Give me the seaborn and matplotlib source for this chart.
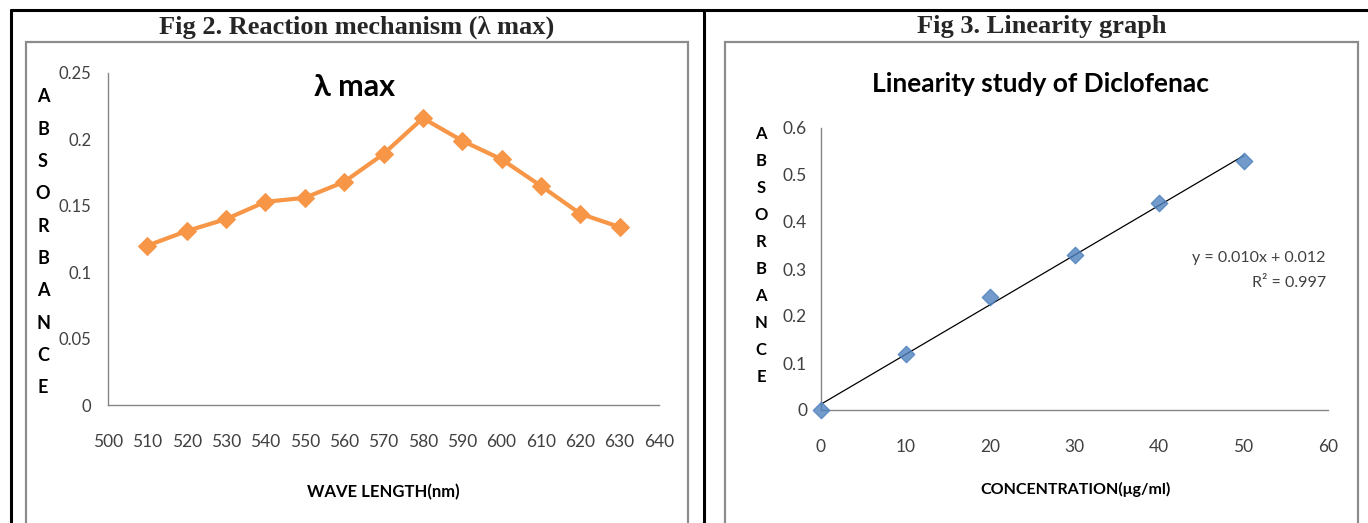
import numpy as np
import pandas as pd
import matplotlib
matplotlib.use("Agg")
import matplotlib.pyplot as plt
import seaborn as sns
from matplotlib.ticker import FuncFormatter, MultipleLocator
from matplotlib.patches import Rectangle
from matplotlib.lines import Line2D

# data
wavelength = [510, 520, 530, 540, 550, 560, 570, 580, 590, 600, 610, 620, 630]
absorbance_wl = [0.120, 0.131, 0.140, 0.153, 0.156, 0.168, 0.189, 0.216, 0.199, 0.185, 0.165, 0.144, 0.134]

concentration = [0, 10, 20, 30, 40, 50]
absorbance_conc = [0.0, 0.12, 0.24, 0.33, 0.44, 0.53]

header_left = "Fig 2. Reaction mechanism (\u03bb max)"
header_right = "Fig 3. Linearity graph"
title_left = "\u03bb max"
title_right = "Linearity study of Diclofenac"
xlabel_left = "WAVE LENGTH(nm)"
xlabel_right = "CONCENTRATION(\u03bcg/ml)"
ylabel_letters = list("ABSORBANCE")
equation = "y = 0.010x + 0.012"
r_squared = "R\u00b2 = 0.997"

W, H = 1368, 523

sns.set_theme(style="white")
plt.rcParams['font.family'] = ['Lato', 'DejaVu Sans']

AXIS_GRAY = "#868686"
TEXT_DARK = "#404040"


def fx(px):
    return px / W


def fy(py):
    return 1 - py / H


def style_axes(ax):
    sns.despine(ax=ax)
    for side in ["left", "bottom"]:
        ax.spines[side].set_color(AXIS_GRAY)
        ax.spines[side].set_linewidth(1.0)
    ax.tick_params(axis="both", which="both", direction="out", color=AXIS_GRAY,
                   labelcolor=TEXT_DARK, labelsize=12.5, width=1.0)
    ax.tick_params(axis="y", length=4, pad=6)
    ax.tick_params(axis="x", length=6, pad=11)
    ax.yaxis.set_major_formatter(FuncFormatter(lambda v, p: f"{v:g}"))
    ax.set_xlabel("")
    ax.set_ylabel("")
    ax.grid(False)


fig = plt.figure(figsize=(W / 100, H / 100), dpi=100)
fig.patch.set_facecolor("white")

# outer table lines
fig.add_artist(Line2D([fx(11), 1.0], [fy(10), fy(10)], color="black", lw=2.2))
fig.add_artist(Line2D([fx(11), fx(11)], [fy(10), 0], color="black", lw=2.2))
fig.add_artist(Line2D([fx(703.5), fx(703.5)], [fy(10), 0], color="black", lw=2.2))

# chart frames
fig.add_artist(Rectangle((fx(26), fy(530)), fx(688 - 26), (530 - 42) / H,
                         fill=False, edgecolor="#8c8c8c", lw=1.6))
fig.add_artist(Rectangle((fx(725), fy(530)), fx(1358 - 725), (530 - 42) / H,
                         fill=False, edgecolor="#8c8c8c", lw=1.6))

# headers
fig.text(fx(357), fy(27), header_left, ha="center", va="center",
         family="Liberation Serif", fontweight="bold", fontsize=19)
fig.text(fx(1042), fy(27), header_right, ha="center", va="center",
         family="Liberation Serif", fontweight="bold", fontsize=19)

# left chart: lambda max
ax1 = fig.add_axes([fx(108), fy(405), fx(659 - 108), (405 - 73) / H])
df_wl = pd.DataFrame({"wavelength": wavelength, "absorbance": absorbance_wl})
sns.lineplot(data=df_wl, x="wavelength", y="absorbance", ax=ax1, color="#F79646",
             lw=3, marker="D", markersize=9, markeredgecolor="#F79646")
ax1.set_xlim(500, 640)
ax1.set_ylim(0, 0.25)
ax1.xaxis.set_major_locator(MultipleLocator(10))
ax1.yaxis.set_major_locator(MultipleLocator(0.05))
style_axes(ax1)
ax1.tick_params(axis="y", pad=8, labelsize=12)
ax1.tick_params(axis="x", pad=15)
fig.text(fx(355), fy(87), title_left, ha="center", va="center",
         fontsize=22, fontweight="bold", color="black")
fig.text(fx(383), fy(492), xlabel_left, ha="center", va="center",
         fontsize=12, fontweight="bold", color="black")
for i, ch in enumerate(ylabel_letters):
    fig.text(fx(43), fy(97 + i * 32.3), ch, ha="center", va="center",
             fontsize=13, fontweight="bold", color="black")

# right chart: linearity
ax2 = fig.add_axes([fx(821), fy(410), fx(1328 - 821), (410 - 128) / H])
df_conc = pd.DataFrame({"concentration": concentration, "absorbance": absorbance_conc})
sns.regplot(data=df_conc, x="concentration", y="absorbance", ax=ax2, ci=None,
            marker="D", scatter_kws={"s": 70, "color": "#4F81BD", "zorder": 3,
                                     "edgecolors": "#4F81BD"},
            line_kws={"color": "black", "lw": 0.9, "zorder": 2})
ax2.set_xlim(0, 60)
ax2.set_ylim(0, 0.6)
ax2.xaxis.set_major_locator(MultipleLocator(10))
ax2.yaxis.set_major_locator(MultipleLocator(0.1))
style_axes(ax2)
ax2.tick_params(axis="x", length=8, pad=13)
for coll in ax2.collections:
    coll.set_clip_on(False)
fig.text(fx(1041), fy(84), title_right, ha="center", va="center",
         fontsize=19, fontweight="bold", color="black")
fig.text(fx(1076), fy(489), xlabel_right, ha="center", va="center",
         fontsize=11.5, fontweight="bold", color="black")
for i, ch in enumerate(ylabel_letters):
    fig.text(fx(761), fy(134 + i * 27), ch, ha="center", va="center",
             fontsize=12, fontweight="bold", color="black")
fig.text(fx(1326), fy(258), equation, ha="right", va="center",
         fontsize=11.5, color=TEXT_DARK)
fig.text(fx(1326), fy(283), r_squared, ha="right", va="center",
         fontsize=11.5, color=TEXT_DARK)

fig.savefig("out.png", dpi=100, facecolor="white")
